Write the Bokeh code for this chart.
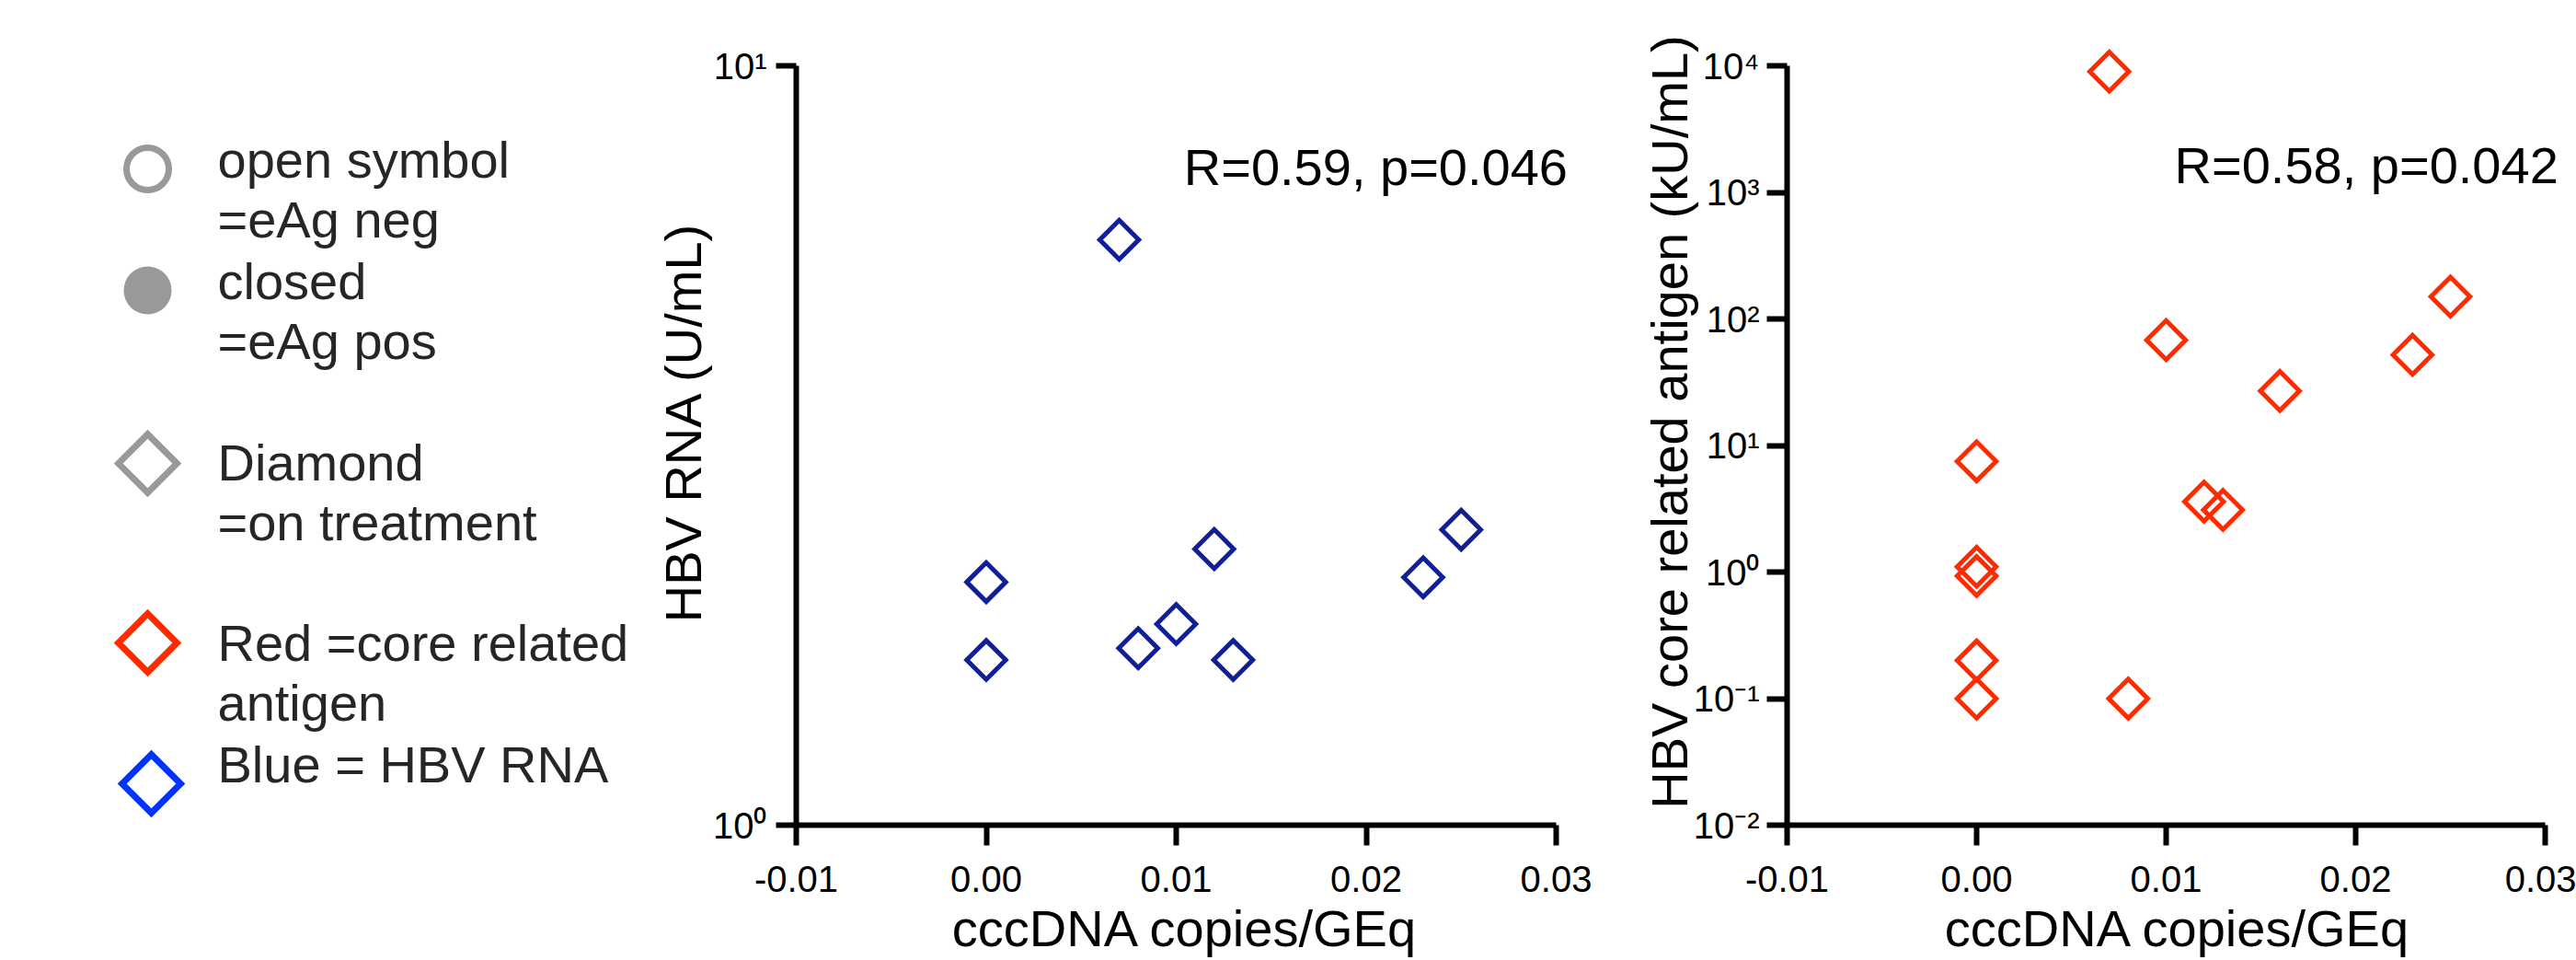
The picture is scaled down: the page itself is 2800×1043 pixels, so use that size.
import numpy as np
from bokeh.plotting import figure
from bokeh.models import Range1d, FixedTicker, Label, ColumnDataSource
from bokeh.layouts import row
from bokeh.embed import file_html
from bokeh.resources import INLINE
from bokeh.core.properties import value

# ---------------- data ----------------
x_ticks = [-0.01, 0.0, 0.01, 0.02, 0.03]
x_tick_labels = ["-0.01", "0.00", "0.01", "0.02", "0.03"]

rna_ticks = [1, 10]
rna_tick_labels = ["10⁰", "10¹"]

crag_ticks = [0.01, 0.1, 1, 10, 100, 1000, 10000]
crag_tick_labels = ["10⁻²", "10⁻¹", "10⁰", "10¹", "10²", "10³", "10⁴"]

# HBV RNA vs cccDNA (blue)
rna_cccdna = [0.007, 0.000, 0.000, 0.008, 0.010, 0.012, 0.013, 0.023, 0.025]
rna_values = [5.9, 2.09, 1.65, 1.71, 1.84, 2.31, 1.65, 2.12, 2.45]

# HBcrAg vs cccDNA (red)
crag_cccdna = [0.007, 0.025, 0.010, 0.023, 0.016, 0.000, 0.012, 0.013,
               0.000, 0.000, 0.000, 0.000, 0.008]
crag_values = [9000, 150, 68, 52, 27, 7.5, 3.6, 3.1, 1.1, 0.93, 0.2, 0.1, 0.1]

stat_rna = "R=0.59, p=0.046"
stat_crag = "R=0.58, p=0.042"
x_label = "cccDNA copies/GEq"
rna_label = "HBV RNA (U/mL)"
crag_label = "HBV core related antigen (kU/mL)"

legend_text = ["open symbol", "=eAg neg", "closed", "=eAg pos", "Diamond",
               "=on treatment", "Red =core related", "antigen", "Blue = HBV RNA"]

# ---------------- style / layout constants ----------------
FONT = "Liberation Sans"
BLUE = "#101f96"
RED = "#ff2a00"
GREY = "#999999"
TXT = "#262626"
H = 1043
TOP = 20            # frame top (canvas px)
BOTTOM = 147        # frame bottom at canvas y 896
FRAME_BOTTOM = H - BOTTOM
TICK_TOP = 71       # canvas y of the highest major tick

# ---------------- legend panel ----------------
leg = figure(width=700, height=H, x_range=Range1d(0, 700),
             y_range=Range1d(FRAME_BOTTOM, TOP),
             output_backend="svg", toolbar_location=None,
             x_axis_location=None, y_axis_location=None,
             min_border_left=0, min_border_right=0,
             min_border_top=TOP, min_border_bottom=BOTTOM)
leg.grid.visible = False
leg.outline_line_color = None

leg_keys = ColumnDataSource(dict(
    x=[160, 160, 160, 160, 164],
    y=[183, 315, 503, 698, 851],
    marker=["circle", "circle", "square", "square", "square"],
    size=[46, 52, 45, 45, 45],
    angle=[0, 0, np.pi / 4, np.pi / 4, np.pi / 4],
    fill=["white", GREY, "white", "white", "white"],
    line=[GREY, GREY, GREY, RED, "#0033ff"],
    lw=[7, 0, 7, 7, 7],
))
leg.scatter(x="x", y="y", marker="marker", size="size", angle="angle",
            fill_color="fill", line_color="line", line_width="lw",
            line_join="miter", source=leg_keys)

leg_txt = ColumnDataSource(dict(
    x=[236] * len(legend_text),
    y=[173, 238, 305, 370, 502, 567, 698, 763, 830],
    text=legend_text,
))
leg.text(x="x", y="y", text="text", source=leg_txt, text_font=value(FONT),
         text_font_size=value("56px"), text_color=TXT,
         text_baseline="middle", text_align="left")


def style_axes(p, y_ticks, y_labels, y_text, y_bounds, ylab_standoff, ytick_standoff):
    p.grid.visible = False
    p.outline_line_color = None
    for ax in (p.xaxis[0], p.yaxis[0]):
        ax.axis_line_width = 6
        ax.axis_line_color = "black"
        ax.major_tick_line_width = 6
        ax.major_tick_line_color = "black"
        ax.major_tick_out = 22
        ax.major_tick_in = 0
        ax.minor_tick_line_color = None
        ax.major_label_text_font = FONT
        ax.major_label_text_color = "black"
        ax.axis_label_text_font = FONT
        ax.axis_label_text_font_size = "56px"
        ax.axis_label_text_font_style = "normal"
        ax.axis_label_text_color = "black"
    xa, ya = p.xaxis[0], p.yaxis[0]
    xa.ticker = FixedTicker(ticks=x_ticks, minor_ticks=[])
    xa.major_label_overrides = dict(zip(x_ticks, x_tick_labels))
    xa.major_label_text_font_size = "40px"
    xa.major_label_standoff = 22
    xa.bounds = (x_ticks[0], x_ticks[-1])
    xa.axis_label = x_label
    xa.axis_label_standoff = 5
    ya.ticker = FixedTicker(ticks=y_ticks, minor_ticks=[])
    ya.major_label_overrides = dict(zip(y_ticks, y_labels))
    ya.major_label_text_font_size = "40px"
    ya.major_label_standoff = ytick_standoff
    ya.bounds = y_bounds
    ya.axis_label = y_text
    ya.axis_label_standoff = ylab_standoff


def log_top(lo, hi):
    # range end so that `hi` lands at canvas y TICK_TOP
    decades = np.log10(hi) - np.log10(lo)
    px = (FRAME_BOTTOM - TICK_TOP) / decades
    return 10 ** (np.log10(hi) + (TICK_TOP - TOP) / px)


# ---------------- HBV RNA panel ----------------
p1_left, p1_right, p1_w = 165, 39, 1050
p1_xend = -0.01 + (p1_w - p1_left - p1_right) / 20650.0
p1 = figure(width=p1_w, height=H, x_range=Range1d(-0.01, p1_xend),
            y_range=Range1d(1, log_top(1, 10)),
            y_axis_type="log", output_backend="svg", toolbar_location=None,
            min_border_left=p1_left, min_border_right=p1_right,
            min_border_top=TOP, min_border_bottom=BOTTOM)
style_axes(p1, rna_ticks, rna_tick_labels, rna_label, (1, 10), -2, 10)
p1.scatter(rna_cccdna, rna_values, marker="square", angle=np.pi / 4, size=30,
           fill_color="white", fill_alpha=0, line_color=BLUE, line_width=5,
           line_join="miter")
p1.add_layout(Label(x=0.0104, y=7.36, text=stat_rna, text_font=FONT,
                    text_font_size="56px", text_color="black",
                    text_baseline="middle", text_align="left"))

# ---------------- HBcrAg panel ----------------
p2_left, p2_right, p2_w = 192, 8, 1050
p2_xend = -0.01 + (p2_w - p2_left - p2_right) / 20600.0
p2 = figure(width=p2_w, height=H, x_range=Range1d(-0.01, p2_xend),
            y_range=Range1d(0.01, log_top(0.01, 10000)),
            y_axis_type="log", output_backend="svg", toolbar_location=None,
            min_border_left=p2_left, min_border_right=p2_right,
            min_border_top=TOP, min_border_bottom=BOTTOM)
style_axes(p2, crag_ticks, crag_tick_labels, crag_label, (0.01, 10000), -8, 8)
p2.scatter(crag_cccdna, crag_values, marker="square", angle=np.pi / 4, size=30,
           fill_color="white", fill_alpha=0, line_color=RED, line_width=5,
           line_join="miter")
p2.add_layout(Label(x=0.01044, y=1639, text=stat_crag, text_font=FONT,
                    text_font_size="56px", text_color="black",
                    text_baseline="middle", text_align="left"))

layout = row(leg, p1, p2, spacing=0)
open("out.html", "w", encoding="utf-8").write(file_html(layout, INLINE))
